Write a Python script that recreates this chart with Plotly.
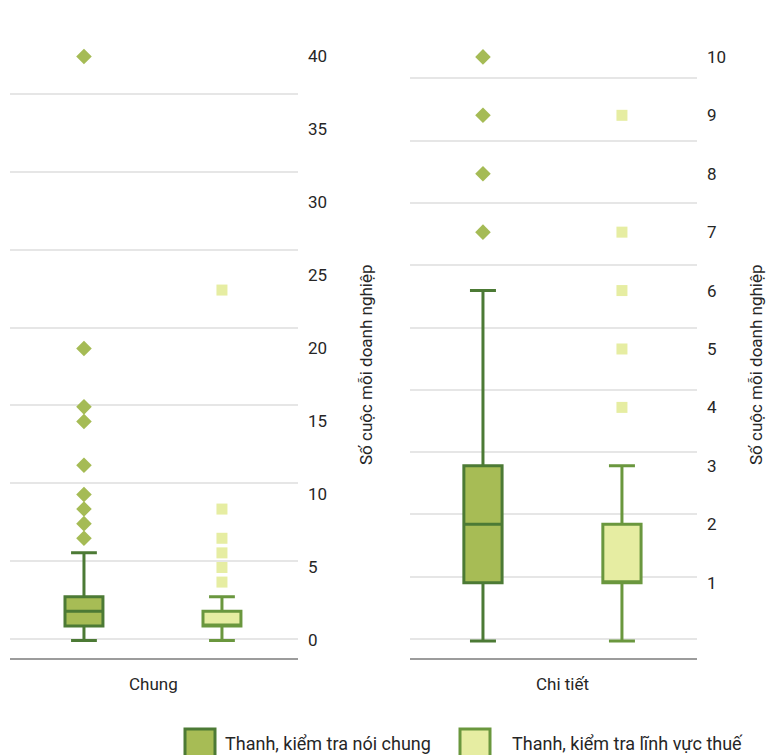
import plotly.graph_objects as go

W, H = 774, 755
OFF = 8  # page body margin
FW, FH = W - OFF, H - OFF

series = ["Thanh, kiểm tra nói chung", "Thanh, kiểm tra lĩnh vực thuế"]
panels = ["Chung", "Chi tiết"]
y_title = "Số cuộc mỗi doanh nghiệp"

# box statistics per series (identical in both panels)
q1 = [1, 1]
median = [2, 1]
q3 = [3, 2]
lower_fence = [0, 0]
upper_fence = [6, 3]

# outliers per panel and series
outliers = {
    "Chung": [[40, 20, 16, 15, 12, 10, 9, 8, 7], [24, 9, 7, 6, 5, 4]],
    "Chi tiết": [[10, 9, 8, 7], [9, 7, 6, 5, 4]],
}

left_ticks = [0, 5, 10, 15, 20, 25, 30, 35, 40]
right_ticks = [1, 2, 3, 4, 5, 6, 7, 8, 9, 10]

fills = ["#a7bc55", "#e6eda2"]
lines = ["#4c7a35", "#6a973e"]
symbols = ["diamond", "square"]
msizes = [12, 11]

FONT = "Roboto"
TXT = "#262626"


def px(x):
    return (x - OFF) / FW


def py(y):
    return 1 - (y - OFF) / FH


fig = go.Figure()

axes = [("x", "y", "y3"), ("x2", "y2", "y4")]
for p, panel in enumerate(panels):
    xa, ya, yg = axes[p]
    # empty trace so the grid-only overlay axis gets drawn
    fig.add_trace(go.Scatter(x=[], y=[], xaxis=xa, yaxis=yg, showlegend=False, hoverinfo="skip"))
    for i, name in enumerate(series):
        fig.add_trace(go.Box(
            x=[name], q1=[q1[i]], median=[median[i]], q3=[q3[i]],
            lowerfence=[lower_fence[i]], upperfence=[upper_fence[i]],
            boxpoints=False, width=0.275, whiskerwidth=0.68,
            fillcolor=fills[i], line=dict(color=lines[i], width=3),
            name=name, showlegend=False, xaxis=xa, yaxis=ya,
        ))
        fig.add_trace(go.Scatter(
            x=[name] * len(outliers[panel][i]), y=outliers[panel][i],
            mode="markers",
            marker=dict(symbol=symbols[i], size=msizes[i], color=fills[i] if i else "#a5bb55",
                        line=dict(width=0)),
            showlegend=False, xaxis=xa, yaxis=ya,
        ))

ydom = [py(658), py(16)]
common_x = dict(type="category", categoryarray=series, showticklabels=False, ticks="",
                showline=True, linecolor="#9c9c9c", linewidth=1.5, showgrid=False,
                zeroline=False, fixedrange=True)
common_y = dict(side="right", showgrid=False, zeroline=False, ticks="",
                ticklabelstandoff=9, tickfont=dict(family=FONT, size=17, color=TXT),
                showline=False)
grid_y = dict(showticklabels=False, ticks="", showgrid=True, gridcolor="#e6e6e6",
              gridwidth=1.5, zeroline=False, showline=False, dtick=1, tick0=0)

fig.update_layout(
    width=FW, height=FH,
    margin=dict(l=0, r=0, t=0, b=0),
    paper_bgcolor="white", plot_bgcolor="rgba(0,0,0,0)",
    showlegend=False,
    font=dict(family=FONT, size=15, color=TXT),
    xaxis=dict(common_x, domain=[px(10), px(298)], range=[-0.536, 1.551], anchor="y"),
    xaxis2=dict(common_x, domain=[px(410), px(697)], range=[-0.525, 1.54], anchor="y2"),
    yaxis=dict(common_y, domain=ydom, range=[-1.2, 42.77], tickvals=left_ticks, anchor="x"),
    yaxis2=dict(common_y, domain=ydom, range=[-0.29, 10.7], tickvals=right_ticks, anchor="x2"),
    yaxis3=dict(grid_y, overlaying="y", range=[-0.244, 8], anchor="x", side="left"),
    yaxis4=dict(grid_y, overlaying="y2", range=[-0.305, 10], anchor="x2", side="left"),
)

ann = []
for xc in [366, 756]:
    ann.append(dict(text=y_title, textangle=-90, x=px(xc), y=py(365), xref="paper", yref="paper",
                    showarrow=False, xanchor="center", yanchor="middle",
                    font=dict(family=FONT, size=17, color=TXT)))
for xc, t in zip([153, 562], panels):
    ann.append(dict(text=t, x=px(xc), y=py(684), xref="paper", yref="paper", showarrow=False,
                    xanchor="center", yanchor="middle", font=dict(family=FONT, size=17, color=TXT)))

# legend drawn below the plots
shapes = []
for i, (x0, xt) in enumerate([(185, 223), (460, 510)]):
    shapes.append(dict(type="rect", xref="paper", yref="paper",
                       x0=px(x0), x1=px(x0 + 30), y0=py(758), y1=py(729),
                       fillcolor=fills[i], line=dict(color=lines[i], width=3)))
    ann.append(dict(text=series[i], x=px(xt), y=py(743), xref="paper", yref="paper",
                    showarrow=False, xanchor="left", yanchor="middle",
                    font=dict(family=FONT, size=18, color=TXT)))

fig.update_layout(annotations=ann, shapes=shapes)

fig.write_html("out.html")
